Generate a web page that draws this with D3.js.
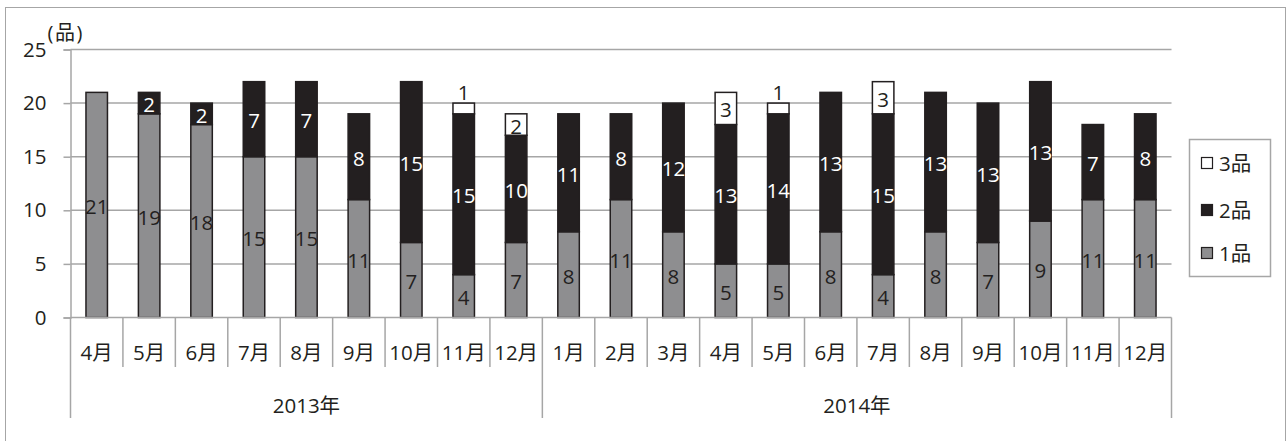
<!DOCTYPE html>
<html><head><meta charset="utf-8">
<script src="https://cdn.jsdelivr.net/npm/d3@7"></script>
<style>
html,body{margin:0;padding:0;background:#fff;}
svg{display:block;}
text{font-family:"Open Sans","Noto Sans CJK JP",sans-serif;fill:#231f20;}
</style></head>
<body>
<svg id="c" width="1287" height="441"></svg>
<script>
const months = ["4月","5月","6月","7月","8月","9月","10月","11月","12月","1月","2月","3月","4月","5月","6月","7月","8月","9月","10月","11月","12月"];
const years = ["2013年","2014年"];
const yearCounts = [9,12];
const s1 = [21,19,18,15,15,11,7,4,7,8,11,8,5,5,8,4,8,7,9,11,11];
const s2 = [0,2,2,7,7,8,15,15,10,11,8,12,13,14,13,15,13,13,13,7,8];
const s3 = [0,0,0,0,0,0,0,1,2,0,0,0,3,1,0,3,0,0,0,0,0];
const seriesNames = ["1品","2品","3品"];
const yTicks = [0,5,10,15,20,25];
const unitLabel = "(品)";

const svg = d3.select("#c");
const L = 70.5, R = 1171.5, T = 49.5, B = 317.5;
const FS = 20.5;
const FF = '"Open Sans","Noto Sans CJK JP",sans-serif';
const dark = "#231f20", grayFill = "#8e8e90", gridC = "#a6a6a6";

// outer border
svg.append("rect").attr("x",5.5).attr("y",7.5).attr("width",1280).attr("height",440)
  .attr("fill","none").attr("stroke","#a6a6a6").attr("stroke-width",1);

const idx = months.map((m,i)=>i);
const x = d3.scaleBand().domain(idx).range([L,R]).paddingInner(0).paddingOuter(0);
const y = d3.scaleLinear().domain([0,25]).range([B,T]);
const bw = x.bandwidth()*0.41;

// gridlines
svg.append("g").selectAll("line").data(yTicks.filter(t=>t>0)).join("line")
  .attr("x1",L).attr("x2",R).attr("y1",d=>y(d)).attr("y2",d=>y(d))
  .attr("stroke",gridC).attr("stroke-width",1.5);

// y axis
const yAxis = d3.axisLeft(y).tickValues(yTicks).tickSize(7).tickPadding(17);
const gy = svg.append("g").attr("transform",`translate(${L},0)`).call(yAxis);
gy.select(".domain").attr("stroke",gridC).attr("stroke-width",1.5);
gy.selectAll(".tick line").attr("stroke",gridC).attr("stroke-width",1.5);
gy.selectAll(".tick text").attr("font-size",FS).attr("fill",dark).style("font-family",FF);

svg.append("text").attr("x",47.5).attr("y",32).attr("dominant-baseline","central")
  .attr("font-size",20).attr("letter-spacing",1.5).text(unitLabel);

// stacked data
const rows = idx.map(i=>({i, a:s1[i], b:s2[i], c:s3[i]}));
const stack = d3.stack().keys(["a","b","c"])(rows);
const fills = [grayFill, dark, "#ffffff"];
const textFills = [dark, "#ffffff", dark];

stack.forEach((layer,k)=>{
  const g = svg.append("g");
  layer.forEach((d,i)=>{
    const v = d[1]-d[0];
    if(v<=0) return;
    const cx = x(i)+x.bandwidth()/2;
    g.append("rect").attr("x",cx-bw/2).attr("y",y(d[1])).attr("width",bw)
      .attr("height",y(d[0])-y(d[1])).attr("fill",fills[k])
      .attr("stroke",dark).attr("stroke-width",1.5);
  });
});
stack.forEach((layer,k)=>{
  const g = svg.append("g");
  layer.forEach((d,i)=>{
    const v = d[1]-d[0];
    if(v<=0) return;
    const cx = x(i)+x.bandwidth()/2;
    let ty = (y(d[0])+y(d[1]))/2 + 1;
    let fill = textFills[k];
    if(v===1){ ty = y(d[1]) - 11; fill = dark; }
    g.append("text").attr("x",cx).attr("y",ty).attr("text-anchor","middle")
      .attr("dominant-baseline","central").attr("font-size",FS).style("fill",fill).text(v);
  });
});

// x axis line
svg.append("line").attr("x1",L).attr("x2",R).attr("y1",B).attr("y2",B)
  .attr("stroke",gridC).attr("stroke-width",1.5);

// month separators
const bounds = d3.range(months.length+1);
let yearBounds = [0]; yearCounts.reduce((a,c)=>{yearBounds.push(a+c); return a+c;},0);
svg.append("g").selectAll("line").data(bounds).join("line")
  .attr("x1",d=> d<months.length ? x(d) : R).attr("x2",d=> d<months.length ? x(d) : R)
  .attr("y1",B).attr("y2",d=> yearBounds.includes(d) ? 418 : 367)
  .attr("stroke",gridC).attr("stroke-width",1.5);

// month labels
svg.append("g").selectAll("text").data(idx).join("text")
  .attr("x",i=>x(i)+x.bandwidth()/2).attr("y",352).attr("text-anchor","middle")
  .attr("dominant-baseline","central").attr("font-size",FS).text(i=>months[i]);

// year labels
years.forEach((yr,k)=>{
  const a = yearBounds[k], b = yearBounds[k+1];
  const xa = x(a), xb = b<months.length ? x(b) : R;
  svg.append("text").attr("x",(xa+xb)/2).attr("y",405).attr("text-anchor","middle")
    .attr("dominant-baseline","central").attr("font-size",FS).text(yr);
});

// legend
const lg = svg.append("g");
lg.append("rect").attr("x",1189.5).attr("y",139.5).attr("width",81).attr("height",137)
  .attr("fill","#fff").attr("stroke","#a6a6a6").attr("stroke-width",1.5);
const legendItems = [{n:seriesNames[2],f:"#ffffff"},{n:seriesNames[1],f:dark},{n:seriesNames[0],f:grayFill}];
const legY = [163,210,253];
legendItems.forEach((it,k)=>{
  lg.append("rect").attr("x",1201.5).attr("y",legY[k]-5.5).attr("width",11).attr("height",11)
    .attr("fill",it.f).attr("stroke",dark).attr("stroke-width",1.2);
  lg.append("text").attr("x",1219).attr("y",legY[k]).attr("dominant-baseline","central")
    .attr("font-size",FS).text(it.n);
});
</script>
</body></html>
